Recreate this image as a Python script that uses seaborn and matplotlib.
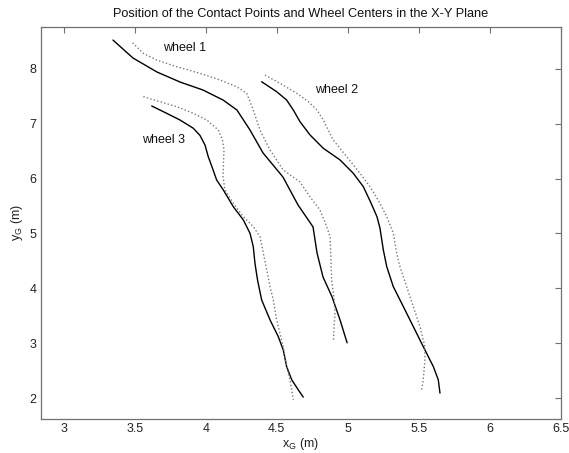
import matplotlib
matplotlib.use("Agg")
import matplotlib.pyplot as plt
import seaborn as sns
import pandas as pd

# ---- data ----
w1_solid_x = [3.347, 3.488, 3.657, 3.819, 3.981, 4.122, 4.220, 4.312, 4.404, 4.544, 4.650, 4.756, 4.784, 4.826, 4.890, 4.946, 4.996]
w1_solid_y = [8.522, 8.195, 7.940, 7.758, 7.612, 7.430, 7.248, 6.884, 6.465, 6.028, 5.519, 5.118, 4.645, 4.208, 3.844, 3.425, 3.007]

w1_dot_x = [3.485, 3.561, 3.655, 3.796, 3.960, 4.101, 4.218, 4.289, 4.335, 4.382, 4.453, 4.546, 4.664, 4.735, 4.805, 4.852, 4.876, 4.882, 4.887, 4.905, 4.910, 4.899]
w1_dot_y = [8.473, 8.280, 8.158, 8.036, 7.916, 7.794, 7.672, 7.552, 7.248, 6.884, 6.520, 6.155, 5.937, 5.664, 5.427, 5.124, 4.942, 4.518, 4.153, 3.790, 3.550, 3.030]

w2_solid_x = [4.394, 4.500, 4.570, 4.617, 4.664, 4.735, 4.828, 4.946, 5.039, 5.110, 5.164, 5.206, 5.227, 5.251, 5.275, 5.321, 5.392, 5.462, 5.532, 5.603, 5.638, 5.650]
w2_solid_y = [7.763, 7.581, 7.430, 7.248, 7.035, 6.793, 6.551, 6.339, 6.096, 5.852, 5.555, 5.306, 5.100, 4.700, 4.395, 4.031, 3.667, 3.303, 2.939, 2.575, 2.333, 2.091]

w2_dot_x = [4.418, 4.523, 4.641, 4.723, 4.784, 4.828, 4.898, 4.993, 5.087, 5.157, 5.227, 5.275, 5.321, 5.345, 5.368, 5.415, 5.462, 5.509, 5.544, 5.544, 5.532, 5.521]
w2_dot_y = [7.885, 7.734, 7.552, 7.399, 7.248, 7.066, 6.702, 6.398, 6.096, 5.852, 5.550, 5.306, 5.004, 4.639, 4.395, 4.031, 3.667, 3.303, 2.939, 2.697, 2.333, 2.151]

w3_solid_x = [3.620, 3.725, 3.819, 3.913, 3.960, 3.995, 4.018, 4.044, 4.077, 4.124, 4.194, 4.265, 4.312, 4.335, 4.347, 4.365, 4.394, 4.453, 4.511, 4.546, 4.570, 4.606, 4.652, 4.687]
w3_solid_y = [7.321, 7.188, 7.066, 6.915, 6.784, 6.611, 6.398, 6.216, 5.974, 5.792, 5.488, 5.246, 5.003, 4.760, 4.457, 4.153, 3.789, 3.425, 3.121, 2.879, 2.575, 2.333, 2.151, 2.018]

w3_dot_x = [3.561, 3.678, 3.796, 3.913, 4.007, 4.089, 4.118, 4.129, 4.125, 4.122, 4.136, 4.194, 4.265, 4.335, 4.382, 4.406, 4.430, 4.453, 4.476, 4.500, 4.546, 4.570, 4.594, 4.617]
w3_dot_y = [7.490, 7.399, 7.308, 7.188, 7.066, 6.884, 6.702, 6.520, 6.278, 6.034, 5.792, 5.550, 5.306, 5.124, 4.942, 4.639, 4.335, 4.031, 3.789, 3.425, 2.939, 2.575, 2.333, 1.969]

label_text = ["wheel 1", "wheel 2", "wheel 3"]
label_x = [3.697, 4.770, 3.549]
label_y = [8.37, 7.612, 6.70]

x_ticks = [3, 3.5, 4, 4.5, 5, 5.5, 6, 6.5]
x_tick_labels = ["3", "3.5", "4", "4.5", "5", "5.5", "6", "6.5"]
y_ticks = [2, 3, 4, 5, 6, 7, 8]
y_tick_labels = ["2", "3", "4", "5", "6", "7", "8"]

title = "Position of the Contact Points and Wheel Centers in the X-Y Plane"

# ---- style ----
sns.set_style("white")
plt.rcParams["font.family"] = ["Liberation Sans", "DejaVu Sans"]
plt.rcParams["mathtext.fontset"] = "custom"
plt.rcParams["mathtext.rm"] = "Liberation Sans"
plt.rcParams["mathtext.it"] = "Liberation Sans"
plt.rcParams["mathtext.default"] = "regular"

fig = plt.figure(figsize=(5.69, 4.53), dpi=100)
ax = fig.add_axes([0.0715, 0.0751, 0.9139, 0.8653])

curves = [
    (w1_solid_x, w1_solid_y, "solid"), (w1_dot_x, w1_dot_y, "dot"),
    (w2_solid_x, w2_solid_y, "solid"), (w2_dot_x, w2_dot_y, "dot"),
    (w3_solid_x, w3_solid_y, "solid"), (w3_dot_x, w3_dot_y, "dot"),
]
for xs, ys, kind in curves:
    df = pd.DataFrame({"x": xs, "y": ys})
    if kind == "solid":
        sns.lineplot(data=df, x="x", y="y", sort=False, estimator=None,
                     color="black", linewidth=1.0, ax=ax)
    else:
        sns.lineplot(data=df, x="x", y="y", sort=False, estimator=None,
                     color="#777777", linewidth=1.0, linestyle=(0, (1, 1.6)), ax=ax)

for t, x, y in zip(label_text, label_x, label_y):
    ax.text(x, y, t, fontsize=9, color="#111111", va="center", ha="left")

ax.set_xlim(2.838, 6.5)
ax.set_ylim(1.62, 8.76)
ax.set_xticks(x_ticks)
ax.set_xticklabels(x_tick_labels)
ax.set_yticks(y_ticks)
ax.set_yticklabels(y_tick_labels)
ax.tick_params(direction="in", length=4, width=0.8, colors="#707070",
               labelcolor="#222222", labelsize=9, top=True, right=True, pad=3)
for s in ax.spines.values():
    s.set_visible(True)
    s.set_color("#707070")
    s.set_linewidth(0.9)

ax.set_xlabel("x$_G$ (m)", fontsize=9, color="#222222", labelpad=0.5)
ax.set_ylabel("y$_G$ (m)", fontsize=9, color="#222222", labelpad=3)
ax.set_title(title, fontsize=9.2, color="#111111", pad=7)

fig.savefig("out.png", dpi=100)
